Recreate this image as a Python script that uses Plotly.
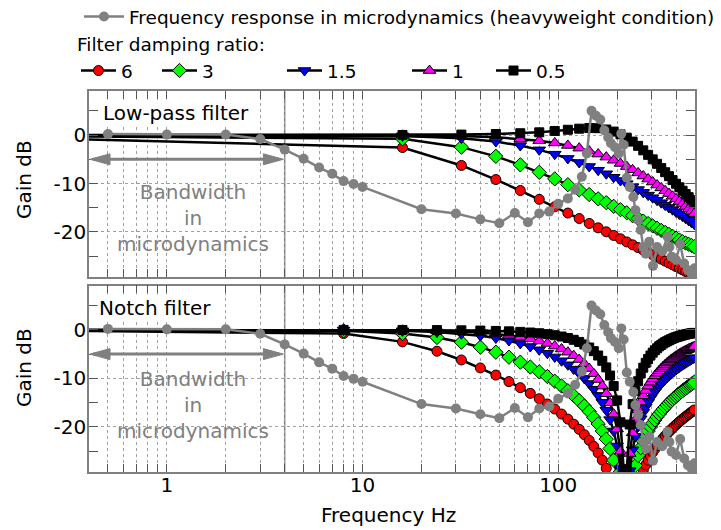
import math
import plotly.graph_objects as go

# ---------------- data ----------------
# Low-pass filter (top panel), frequency in Hz
f_lp = [0.1, 16, 32, 48, 64, 80, 96, 112, 128, 144, 160, 176, 192, 208, 224, 240,
        256, 272, 288, 304, 320, 336, 352, 368, 384, 400, 416, 432, 448, 464, 480, 496]
lp_6 = [-0.27, -2.57, -6.27, -9.18, -11.45, -13.27, -14.80, -16.10, -17.23, -18.24, -19.15,
        -19.97, -20.72, -21.42, -22.06, -22.66, -23.23, -23.76, -24.26, -24.73, -25.18,
        -25.61, -26.02, -26.41, -26.79, -27.15, -27.50, -27.84, -28.16, -28.48, -28.78, -29.08]
lp_3 = [-0.12, -0.77, -2.49, -4.39, -6.14, -7.68, -9.04, -10.24, -11.31, -12.28, -13.16,
        -13.96, -14.71, -15.40, -16.04, -16.65, -17.22, -17.76, -18.27, -18.76, -19.23,
        -19.67, -20.10, -20.51, -20.91, -21.29, -21.67, -22.0, -22.3, -22.55, -22.8, -23.05]
lp_15 = [0.0, -0.17, -0.64, -1.34, -2.17, -3.05, -3.94, -4.82, -5.66, -6.48, -7.25,
         -7.99, -8.70, -9.38, -10.03, -10.65, -11.25, -11.83, -12.39, -12.93, -13.45,
         -13.96, -14.46, -14.94, -15.41, -15.87, -16.31, -16.75, -17.18, -17.60, -18.01, -18.41]
lp_1 = [0.0, -0.05, -0.20, -0.43, -0.76, -1.16, -1.62, -2.14, -2.70, -3.30, -3.92,
        -4.55, -5.20, -5.86, -6.51, -7.17, -7.81, -8.45, -9.08, -9.70, -10.31,
        -10.91, -11.50, -12.07, -12.63, -13.18, -13.72, -14.24, -14.75, -15.25, -15.74, -16.22]
lp_05 = [0.0, 0.02, 0.10, 0.22, 0.38, 0.57, 0.85, 1.10, 1.32, 1.45, 1.42,
         1.15, 0.72, 0.16, -0.53, -1.34, -2.22, -3.15, -4.08, -5.01, -5.93,
         -6.81, -7.67, -8.49, -9.29, -10.05, -10.78, -11.49, -12.17, -12.82, -13.45, -14.06]

# Notch filter (bottom panel)
f_nt = [0.1, 8, 16, 24, 32, 40, 48, 56, 64, 72, 80, 88, 96, 104, 112, 120, 128, 136, 144,
        152, 160, 168, 176, 184, 192, 200, 208, 216, 224, 232, 240, 248, 256, 264, 272,
        280, 288, 296, 304, 312, 320, 328, 336, 344, 352, 360, 368, 376, 384, 392, 400,
        408, 416, 424, 432, 440, 448, 456, 464, 472, 480, 488, 496]
nt_6 = [0.0, -0.76, -2.48, -4.40, -6.21, -7.85, -9.32, -10.67, -11.92, -13.09, -14.20,
        -15.27, -16.32, -17.35, -18.39, -19.44, -20.51, -21.62, -22.78, -24.03, -25.37,
        -26.85, -28.53, -30.48, -32.86, -35.97, -40.58, -50.29, -50.45, -41.06, -36.76,
        -33.98, -31.92, -30.30, -28.97, -27.84, -26.86, -26.00, -25.23, -24.54, -23.90,
        -23.33, -22.79, -22.30, -21.83, -21.40, -20.99, -20.61, -20.24, -19.90, -19.57,
        -19.26, -18.96, -18.67, -18.39, -18.13, -17.88, -17.63, -17.39, -17.17, -16.94,
        -16.73, -16.52]
nt_3 = [0.0, -0.20, -0.76, -1.58, -2.54, -3.57, -4.61, -5.64, -6.66, -7.66, -8.65,
        -9.62, -10.59, -11.57, -12.55, -13.56, -14.60, -15.69, -16.83, -18.06, -19.39,
        -20.86, -22.52, -24.47, -26.85, -29.95, -34.56, -44.27, -44.43, -35.04, -30.74,
        -27.96, -25.91, -24.29, -22.97, -21.84, -20.87, -20.01, -19.25, -18.56, -17.94,
        -17.37, -16.84, -16.35, -15.90, -15.47, -15.07, -14.70, -14.34, -14.01, -13.69,
        -13.39, -13.10, -12.82, -12.56, -12.31, -12.06, -11.83, -11.60, -11.39, -11.18,
        -10.98, -10.78]
nt_15 = [0.0, -0.05, -0.20, -0.45, -0.79, -1.20, -1.68, -2.22, -2.81, -3.44, -4.12,
         -4.83, -5.58, -6.37, -7.20, -8.08, -9.01, -10.01, -11.07, -12.23, -13.51,
         -14.94, -16.58, -18.50, -20.85, -23.94, -28.55, -38.25, -38.41, -29.02, -24.73,
         -21.96, -19.92, -18.32, -17.01, -15.90, -14.95, -14.12, -13.38, -12.72, -12.12,
         -11.58, -11.08, -10.62, -10.20, -9.81, -9.44, -9.10, -8.78, -8.48, -8.19,
         -7.93, -7.67, -7.43, -7.21, -6.99, -6.79, -6.59, -6.40, -6.22, -6.05,
         -5.89, -5.73]
nt_1 = [0.0, -0.02, -0.09, -0.21, -0.37, -0.57, -0.83, -1.13, -1.47, -1.87, -2.31,
        -2.80, -3.35, -3.95, -4.61, -5.33, -6.12, -6.99, -7.96, -9.03, -10.23,
        -11.59, -13.17, -15.05, -17.37, -20.44, -25.03, -34.73, -34.89, -25.50, -21.23,
        -18.47, -16.46, -14.88, -13.59, -12.52, -11.60, -10.80, -10.10, -9.48, -8.92,
        -8.42, -7.96, -7.55, -7.17, -6.82, -6.50, -6.20, -5.92, -5.66, -5.43,
        -5.20, -4.99, -4.80, -4.61, -4.44, -4.27, -4.12, -3.97, -3.83, -3.70,
        -3.58, -3.46]
nt_05 = [0.0, -0.01, -0.02, -0.05, -0.10, -0.15, -0.22, -0.31, -0.42, -0.55, -0.70,
         -0.89, -1.11, -1.37, -1.68, -2.05, -2.49, -3.01, -3.64, -4.39, -5.29,
         -6.39, -7.74, -9.42, -11.59, -14.54, -19.05, -28.71, -28.87, -19.52, -15.31,
         -12.63, -10.6, -9.0, -7.8, -6.8, -6.0, -5.3, -4.7, -4.2, -3.8,
         -3.4, -3.1, -2.8, -2.55, -2.35, -2.15, -1.95, -1.8, -1.65, -1.5,
         -1.4, -1.3, -1.2, -1.1, -1.02, -0.95, -0.88, -0.82, -0.76, -0.71,
         -0.66, -0.62]

# Frequency response in microdynamics (heavyweight condition)
f_micro = [0.5, 1, 2, 3, 4, 5, 6, 7, 8, 9, 10, 20, 30, 40, 50, 60, 70, 80, 90, 100,
           112, 122, 132, 140, 148, 156, 164, 172, 180, 186, 195, 204, 210, 216, 224,
           232, 242, 248, 256, 264, 272, 280, 292, 305, 320, 340, 362, 370, 380, 400,
           420, 440, 460, 480, 497]
g_micro = [0.2, 0.1, 0.1, -0.8, -3.0, -4.9, -6.7, -8.0, -9.5, -10.1, -10.7, -15.3, -16.2,
           -17.4, -18.2, -16.1, -18.0, -16.2, -15.8, -14.2, -13.1, -11.3, -8.6, -3.8, 5.0,
           4.0, 3.2, 1.0, -0.5, -1.7, -2.5, -3.8, 0.3, -2.0, -8.8, -10.7, -12.8, -15.5,
           -17.5, -19.6, -23.1, -24.5, -22.0, -27.0, -23.1, -24.0, -21.0, -23.1, -25.1,
           -25.8, -22.5, -26.5, -27.9, -28.6, -27.5]

damping_names = ["6", "3", "1.5", "1", "0.5"]
lp_series = [lp_6, lp_3, lp_15, lp_1, lp_05]
nt_series = [nt_6, nt_3, nt_15, nt_1, nt_05]

# tick labels
x_tickvals = [0.5, 0.6, 0.7, 0.8, 0.9, 1, 2, 3, 4, 5, 6, 7, 8, 9, 10, 20, 30, 40, 50, 60,
              70, 80, 90, 100, 200, 300, 400]
x_ticklabels = {1: "1", 10: "10", 100: "100"}
y_tickvals = [-20, -10, 0]
y_ticktext = ["-20", "-10", "0"]
y_minor = [-25, -15, -5, 5]

# ---------------- style ----------------
FONT = "DejaVu Sans"
colors = ["#ff0000", "#00ff00", "#0000ff", "#ff00ff", "#000000"]
symbols = ["circle", "diamond", "triangle-down", "triangle-up", "square"]
sizes = [10, 11, 11, 11, 9]
GRAY = "#808080"

fig = go.Figure()
for i in range(5):
    mk = dict(symbol=symbols[i], size=sizes[i], color=colors[i], line=dict(color="black", width=1))
    fig.add_trace(go.Scatter(x=f_lp, y=lp_series[i], mode="lines+markers", name=damping_names[i],
                             line=dict(color="black", width=2.5), marker=mk,
                             legend="legend%d" % (i + 2), xaxis="x", yaxis="y"))
for i in range(5):
    mk = dict(symbol=symbols[i], size=sizes[i], color=colors[i], line=dict(color="black", width=1))
    fig.add_trace(go.Scatter(x=f_nt, y=nt_series[i], mode="lines+markers", showlegend=False,
                             line=dict(color="black", width=2.5), marker=mk,
                             xaxis="x2", yaxis="y2"))
for k, (xa, ya) in enumerate([("x", "y"), ("x2", "y2")]):
    fig.add_trace(go.Scatter(x=f_micro, y=g_micro, mode="lines+markers",
                             name="Frequency response in microdynamics (heavyweight condition)",
                             showlegend=(k == 0), legend="legend",
                             line=dict(color=GRAY, width=2.5),
                             marker=dict(symbol="circle", size=10, color=GRAY),
                             xaxis=xa, yaxis=ya))

xr = [math.log10(0.4), math.log10(500)]
yr = [-29.3, 9.1]

def xaxis(show_labels, anchor):
    return dict(type="log", range=xr, tickmode="array", tickvals=x_tickvals,
                ticktext=[x_ticklabels.get(v, "") for v in x_tickvals],
                showticklabels=show_labels, ticks="inside", ticklen=8, tickwidth=1,
                tickcolor="#555555", showline=True, linecolor=GRAY, linewidth=1.5,
                mirror="ticks", showgrid=True, gridcolor="#a0a0a0", griddash="dot",
                gridwidth=1, zeroline=False, anchor=anchor, automargin=False,
                ticklabelstandoff=-6,
                tickfont=dict(family=FONT, size=20, color="black"))

def yaxis(domain, anchor):
    return dict(range=yr, domain=domain, tickmode="array", tickvals=y_tickvals,
                ticktext=y_ticktext, ticks="inside", ticklen=9, tickcolor="#555555",
                minor=dict(tickmode="array", tickvals=y_minor, ticks="inside", ticklen=9,
                           tickcolor="#555555", showgrid=False),
                showline=True, linecolor=GRAY, linewidth=1.5, mirror="ticks",
                showgrid=True, gridcolor="#a0a0a0", griddash="dot", gridwidth=1,
                zeroline=False, anchor=anchor, automargin=False,
                ticklabelstandoff=-3,
                tickfont=dict(family=FONT, size=20, color="black"))

W, H = 721, 530
ML, MR, MT, MB = 89, 26, 91, 58
PW, PH = W - ML - MR, H - MT - MB

def px(xp):
    return (xp - ML) / PW

def py(yp):
    return (H - MB - yp) / PH

legend_common = dict(bgcolor="rgba(0,0,0,0)", borderwidth=0, orientation="h",
                     font=dict(family=FONT, size=18.5, color="black"),
                     xanchor="left", yanchor="middle", itemclick=False)

layouts = dict(
    width=W, height=H,
    margin=dict(l=ML, r=MR, t=MT, b=MB, autoexpand=False),
    paper_bgcolor="white", plot_bgcolor="white",
    font=dict(family=FONT, size=20, color="black"),
    xaxis=xaxis(False, "y"),
    yaxis=yaxis([py(277), 1.0], "x"),
    xaxis2=xaxis(True, "y2"),
    yaxis2=yaxis([0.0, py(285.7)], "x2"),
    legend=dict(legend_common, x=px(79), y=py(17), itemwidth=40),
)
leg_x = [76, 157, 282, 407, 491]
for i in range(5):
    layouts["legend%d" % (i + 2)] = dict(legend_common, x=px(leg_x[i]), y=py(71), itemwidth=35)
fig.update_layout(**layouts)

# shapes: 4 Hz line and bandwidth arrows
shapes = []
arrow_lo, arrow_hi, arrow_y = 0.4, 3.94, -5
for xa, ya in [("x", "y"), ("x2", "y2")]:
    shapes.append(dict(type="line", xref=xa, yref=ya + " domain", x0=4, x1=4, y0=0, y1=1,
                       line=dict(color=GRAY, width=1.5), layer="below"))
    shapes.append(dict(type="line", xref=xa, yref=ya, x0=arrow_lo * 1.05, x1=arrow_hi * 0.95,
                       y0=arrow_y, y1=arrow_y, line=dict(color=GRAY, width=3)))
    shapes.append(dict(type="path", xref=xa, yref=ya, xsizemode="pixel", ysizemode="pixel",
                       xanchor=arrow_lo, yanchor=arrow_y, path="M1,0 L21,5.5 L21,-5.5 Z",
                       fillcolor=GRAY, line=dict(color=GRAY, width=1)))
    shapes.append(dict(type="path", xref=xa, yref=ya, xsizemode="pixel", ysizemode="pixel",
                       xanchor=arrow_hi, yanchor=arrow_y, path="M0,0 L-20,5.5 L-20,-5.5 Z",
                       fillcolor=GRAY, line=dict(color=GRAY, width=1)))
fig.update_layout(shapes=shapes)

def note(text, x, y, size=20, color="black", **kw):
    d = dict(text=text, xref="paper", yref="paper", x=px(x), y=py(y), showarrow=False,
             xanchor=kw.pop("xanchor", "center"), yanchor="middle",
             font=dict(family=FONT, size=size, color=color))
    d.update(kw)
    return d

ann = [
    note("Bandwidth<br>in<br>microdynamics", 193, 217.5, color=GRAY),
    note("Bandwidth<br>in<br>microdynamics", 193, 405, color=GRAY),
    note("Low-pass filter", 101, 112.5, xanchor="left", bgcolor="white"),
    note("Notch filter", 97, 307.5, xanchor="left", bgcolor="white"),
    note("Gain dB", 24, 180, textangle=-90),
    note("Gain dB", 24, 368, textangle=-90),
    note("Frequency Hz", 388, 515),
    note("Filter damping ratio:", 75, 45, size=18.5, xanchor="left"),
]
fig.update_layout(annotations=ann)

fig.write_html("out.html")
